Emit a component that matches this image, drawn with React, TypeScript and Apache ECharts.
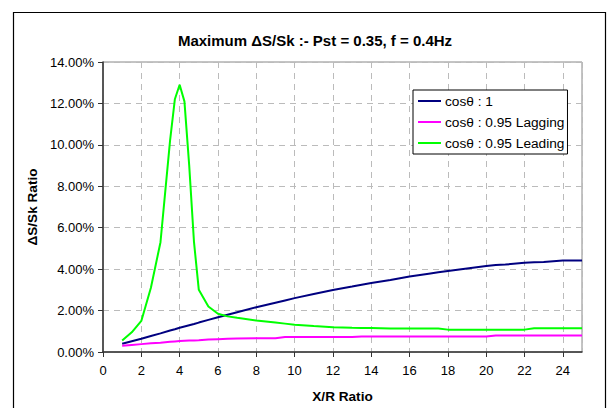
import React, { useEffect, useRef } from "react";
import * as echarts from "echarts";

const xRatio = [1, 1.5, 2, 2.5, 3, 3.5, 3.75, 4, 4.25, 4.5, 4.75, 5, 5.5, 6, 6.5, 7, 8, 9, 9.5, 10, 11, 12, 13, 13.5, 14, 15, 16, 17, 17.5, 18, 19, 20, 20.5, 21, 22, 22.5, 23, 24, 25];

const unity = [0.4, 0.52, 0.64, 0.77, 0.9, 1.04, 1.1, 1.17, 1.23, 1.29, 1.35, 1.42, 1.55, 1.68, 1.8, 1.92, 2.16, 2.38, 2.49, 2.6, 2.8, 2.99, 3.16, 3.25, 3.33, 3.48, 3.64, 3.78, 3.85, 3.91, 4.03, 4.15, 4.2, 4.22, 4.31, 4.33, 4.35, 4.42, 4.42];

const lagging = [0.3, 0.34, 0.38, 0.42, 0.45, 0.49, 0.51, 0.53, 0.54, 0.55, 0.56, 0.57, 0.6, 0.62, 0.64, 0.65, 0.66, 0.66, 0.72, 0.72, 0.72, 0.72, 0.72, 0.75, 0.75, 0.75, 0.75, 0.75, 0.75, 0.75, 0.75, 0.75, 0.8, 0.8, 0.8, 0.8, 0.8, 0.8, 0.8];

const leading = [0.55, 0.95, 1.5, 3.1, 5.3, 10.2, 12.2, 12.9, 12.1, 9.0, 5.3, 3.0, 2.2, 1.85, 1.72, 1.65, 1.52, 1.42, 1.37, 1.32, 1.25, 1.2, 1.17, 1.16, 1.16, 1.13, 1.13, 1.13, 1.13, 1.08, 1.08, 1.08, 1.08, 1.08, 1.08, 1.15, 1.15, 1.15, 1.15];

const seriesNames = ["cosθ : 1", "cosθ : 0.95 Lagging", "cosθ : 0.95 Leading"];
const seriesColors = ["#000080", "#ff00ff", "#00ff00"];
const titleText = "Maximum ΔS/Sk :- Pst = 0.35, f = 0.4Hz";

const FONT = "'Liberation Sans', Arial, sans-serif";

export default function App() {
  const ref = useRef<HTMLDivElement>(null);
  useEffect(() => {
    if (!ref.current) return;
    const chart = echarts.init(ref.current, null, { renderer: "svg" });
    const values = [unity, lagging, leading];
    chart.setOption({
      animation: false,
      backgroundColor: "#ffffff",
      textStyle: { fontFamily: FONT },
      title: {
        text: titleText,
        left: 310,
        top: 28,
        textAlign: "center",
        textStyle: { fontSize: 15, fontWeight: "bold", color: "#000", fontFamily: FONT },
      },
      graphic: [
        {
          type: "rect",
          shape: { x: 13.5, y: 12.5, width: 592, height: 420 },
          style: { fill: "none", stroke: "#000", lineWidth: 1.2 },
          silent: true,
        },
      ],
      legend: {
        orient: "vertical",
        left: 413,
        top: 90,
        data: seriesNames,
        icon: "rect",
        itemWidth: 23,
        itemHeight: 2,
        itemGap: 7,
        padding: [4, 3, 4, 5],
        borderColor: "#000",
        borderWidth: 1,
        backgroundColor: "#fff",
        textStyle: { fontSize: 13.7, color: "#000", fontFamily: FONT, padding: [0, 0, 0, -1] },
      },
      grid: {
        left: 103,
        right: 25,
        top: 62,
        bottom: 55,
        show: true,
        borderColor: "#888",
        borderWidth: 1,
        backgroundColor: "#fff",
      },
      xAxis: {
        type: "value",
        min: 0,
        max: 25,
        interval: 2,
        name: "X/R Ratio",
        nameLocation: "middle",
        nameGap: 37,
        nameTextStyle: { fontSize: 13.6, fontWeight: "bold", color: "#000", fontFamily: FONT },
        axisLine: { show: true, lineStyle: { color: "#333", width: 1.5 } },
        axisTick: { show: true, length: 5, lineStyle: { color: "#333" } },
        axisLabel: { fontSize: 13, color: "#000", margin: 12, showMaxLabel: false, fontFamily: FONT },
        splitLine: { show: true, lineStyle: { color: "#bbb", type: [6, 5], width: 1 } },
      },
      yAxis: {
        type: "value",
        min: 0,
        max: 14,
        interval: 2,
        name: "ΔS/Sk Ratio",
        nameLocation: "middle",
        nameGap: 59,
        nameTextStyle: { fontSize: 13.6, fontWeight: "bold", color: "#000", fontFamily: FONT },
        axisLine: { show: true, lineStyle: { color: "#333", width: 1.5 } },
        axisTick: { show: true, length: 5, lineStyle: { color: "#333" } },
        axisLabel: {
          fontSize: 13,
          color: "#000",
          margin: 9,
          fontFamily: FONT,
          formatter: (v: number) => v.toFixed(2) + "%",
        },
        splitLine: { show: true, lineStyle: { color: "#bbb", type: [6, 5], width: 1 } },
      },
      series: seriesNames.map((name, i) => ({
        name,
        type: "line",
        symbol: "none",
        data: xRatio.map((x, j) => [x, values[i][j]]),
        lineStyle: { color: seriesColors[i], width: 2 },
        itemStyle: { color: seriesColors[i] },
      })),
    });
    return () => chart.dispose();
  }, []);
  return (
    <div
      ref={ref}
      style={{ position: "absolute", left: 0, top: 0, width: 607, height: 408 }}
    />
  );
}
